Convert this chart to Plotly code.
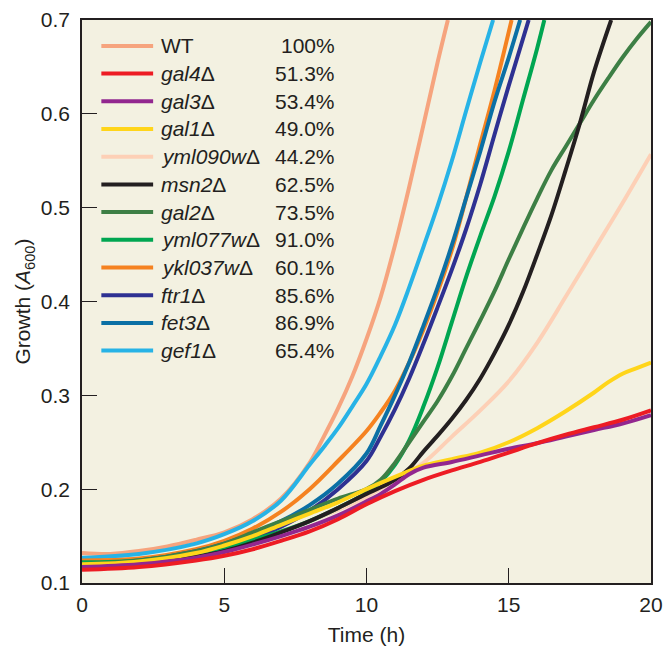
import plotly.graph_objects as go

# ---- data ----
strains = ["WT", "gal4", "gal3", "gal1", "yml090w", "msn2", "gal2",
           "yml077w", "ykl037w", "ftr1", "fet3", "gef1"]
percent = ["100%", "51.3%", "53.4%", "49.0%", "44.2%", "62.5%", "73.5%",
           "91.0%", "60.1%", "85.6%", "86.9%", "65.4%"]
colors = ["#f6a47e", "#ed1c24", "#92278f", "#ffd51a", "#fdd0b6", "#231f20",
          "#3d7f45", "#00a651", "#f58220", "#2e3192", "#0b70a5", "#27b3e6"]

wt_t = [0, 1, 2, 3, 4, 5, 6, 7, 8, 8.5, 9, 9.5, 10, 10.5, 11, 11.5, 12, 12.5, 12.86]
wt_y = [0.132, 0.131, 0.134, 0.139, 0.146, 0.154, 0.168, 0.19, 0.228, 0.256, 0.286,
        0.32, 0.36, 0.405, 0.46, 0.522, 0.588, 0.655, 0.7]

gal4_t = [0, 2, 4, 5, 6, 7, 8, 9, 10, 11, 12, 13, 14, 15, 16, 17, 18, 19, 20]
gal4_y = [0.114, 0.117, 0.124, 0.129, 0.136, 0.145, 0.155, 0.168, 0.184, 0.198, 0.21,
          0.22, 0.229, 0.239, 0.249, 0.258, 0.266, 0.274, 0.284]

gal3_t = [0, 2, 4, 5, 6, 7, 8, 9, 10, 10.5, 11, 11.5, 12, 13, 14, 15, 16, 17, 18, 19, 20]
gal3_y = [0.117, 0.12, 0.127, 0.133, 0.141, 0.15, 0.16, 0.172, 0.187, 0.195, 0.205,
          0.216, 0.223, 0.229, 0.236, 0.243, 0.249, 0.256, 0.263, 0.27, 0.279]

gal1_t = [0, 2, 4, 5, 6, 7, 8, 9, 10, 11, 12, 13, 14, 15, 16, 17, 18, 18.5, 19, 19.5, 20]
gal1_y = [0.12, 0.123, 0.132, 0.14, 0.15, 0.162, 0.174, 0.186, 0.2, 0.213, 0.225,
          0.232, 0.239, 0.25, 0.265, 0.283, 0.303, 0.314, 0.323, 0.329, 0.335]

yml090w_t = [0, 2, 4, 5, 6, 7, 8, 9, 10, 11, 12, 13, 14, 15, 16, 17, 18, 19, 20]
yml090w_y = [0.122, 0.125, 0.132, 0.137, 0.145, 0.155, 0.166, 0.178, 0.192, 0.21, 0.228,
             0.256, 0.284, 0.315, 0.356, 0.405, 0.455, 0.505, 0.557]

msn2_t = [0, 2, 4, 5, 6, 7, 8, 9, 10, 10.5, 11, 11.5, 12, 12.5, 13, 13.5, 14, 14.5,
          15, 15.5, 16, 16.5, 17, 17.5, 18, 18.6]
msn2_y = [0.117, 0.12, 0.128, 0.134, 0.143, 0.154, 0.166, 0.18, 0.195, 0.202, 0.21,
          0.222, 0.24, 0.257, 0.275, 0.295, 0.318, 0.345, 0.375, 0.41, 0.45, 0.492,
          0.54, 0.59, 0.645, 0.7]

gal2_t = [0, 2, 4, 5, 6, 7, 8, 9, 10, 10.5, 11, 11.5, 12, 12.5, 13, 13.5, 14, 14.5,
          15, 15.5, 16, 16.5, 17, 17.5, 18, 18.5, 19, 19.5, 20]
gal2_y = [0.12, 0.124, 0.134, 0.142, 0.154, 0.166, 0.178, 0.19, 0.2, 0.21, 0.228,
          0.25, 0.272, 0.294, 0.32, 0.35, 0.38, 0.411, 0.445, 0.478, 0.51, 0.54,
          0.565, 0.59, 0.615, 0.638, 0.66, 0.68, 0.698]

yml077w_t = [0, 2, 4, 5, 6, 7, 8, 9, 10, 10.5, 11, 11.5, 12, 12.5, 13, 13.5, 14, 14.5,
             15, 15.5, 16, 16.25]
yml077w_y = [0.122, 0.124, 0.132, 0.138, 0.146, 0.155, 0.166, 0.18, 0.196, 0.208,
             0.226, 0.252, 0.288, 0.33, 0.378, 0.426, 0.47, 0.512, 0.56, 0.615, 0.67, 0.7]

ykl037w_t = [0, 2, 4, 5, 6, 7, 8, 9, 10, 10.5, 11, 11.5, 12, 12.5, 13, 13.5, 14, 14.5, 15.1]
ykl037w_y = [0.124, 0.126, 0.136, 0.145, 0.158, 0.176, 0.2, 0.23, 0.262, 0.282, 0.305,
             0.335, 0.37, 0.41, 0.455, 0.51, 0.568, 0.625, 0.7]

ftr1_t = [0, 2, 4, 5, 6, 7, 8, 9, 10, 10.5, 11, 11.5, 12, 12.5, 13, 13.5, 14, 14.5, 15, 15.7]
ftr1_y = [0.118, 0.121, 0.13, 0.137, 0.147, 0.16, 0.177, 0.2, 0.23, 0.256, 0.285,
          0.318, 0.355, 0.394, 0.434, 0.477, 0.525, 0.578, 0.63, 0.7]

fet3_t = [0, 2, 4, 5, 6, 7, 8, 9, 10, 10.5, 11, 11.5, 12, 12.5, 13, 13.5, 14, 14.5, 15, 15.4]
fet3_y = [0.12, 0.124, 0.134, 0.142, 0.153, 0.166, 0.183, 0.206, 0.238, 0.268, 0.3,
          0.335, 0.374, 0.415, 0.46, 0.51, 0.56, 0.613, 0.66, 0.7]

gef1_t = [0, 2, 4, 5, 6, 7, 8, 8.5, 9, 9.5, 10, 10.5, 11, 11.5, 12, 12.5, 13, 13.5, 14, 14.45]
gef1_y = [0.127, 0.131, 0.142, 0.152, 0.166, 0.188, 0.226, 0.245, 0.265, 0.288, 0.312,
          0.342, 0.375, 0.415, 0.458, 0.502, 0.55, 0.603, 0.655, 0.7]

series_t = [wt_t, gal4_t, gal3_t, gal1_t, yml090w_t, msn2_t, gal2_t,
            yml077w_t, ykl037w_t, ftr1_t, fet3_t, gef1_t]
series_y = [wt_y, gal4_y, gal3_y, gal1_y, yml090w_y, msn2_y, gal2_y,
            yml077w_y, ykl037w_y, ftr1_y, fet3_y, gef1_y]

x_ticks = [0, 5, 10, 15, 20]
y_ticks = [0.1, 0.2, 0.3, 0.4, 0.5, 0.6, 0.7]
y_ticktext = ["0.1", "0.2", "0.3", "0.4", "0.5", "0.6", "0.7"]

FONT = "Liberation Sans, Arial, Helvetica, sans-serif"
INK = "#231f20"
FS = 21

fig = go.Figure()
order = [4, 0, 11, 8, 10, 9, 7, 6, 5, 3, 2, 1]
for i in order:
    fig.add_trace(go.Scatter(
        x=series_t[i], y=series_y[i], mode="lines",
        line=dict(color=colors[i], width=4, shape="spline", smoothing=1.0),
        name=strains[i], showlegend=False, hoverinfo="skip"))

# custom legend (line sample + name + percentage)
shapes = []
annotations = []
y0 = 0.954
dy = 0.0492
for k, (s, p, c) in enumerate(zip(strains, percent, colors)):
    yy = y0 - k * dy
    shapes.append(dict(type="line", xref="paper", yref="paper",
                       x0=0.034, x1=0.125, y0=yy, y1=yy,
                       line=dict(color=c, width=4)))
    label = s if s == "WT" else "<i>" + s + "</i>Δ"
    annotations.append(dict(xref="paper", yref="paper", x=0.135, y=yy,
                            text=label, showarrow=False, xanchor="left",
                            yanchor="middle", font=dict(size=FS, color=INK, family=FONT)))
    annotations.append(dict(xref="paper", yref="paper", x=0.449, y=yy,
                            text=p, showarrow=False, xanchor="right",
                            yanchor="middle", font=dict(size=FS, color=INK, family=FONT)))

fig.update_layout(
    width=663, height=647,
    margin=dict(l=82, r=12, t=20, b=64),
    paper_bgcolor="white",
    plot_bgcolor="#f3f1e1",
    font=dict(family=FONT, size=FS, color=INK),
    shapes=shapes,
    annotations=annotations,
    xaxis=dict(range=[0, 20], tickvals=x_ticks, ticks="inside", ticklen=15,
               tickwidth=1.3, tickcolor=INK, showline=True, linecolor=INK,
               linewidth=1.5, mirror=True, showgrid=False, zeroline=False,
               automargin=False, ticklabelstandoff=2,
               title=dict(text="Time (h)", font=dict(size=FS), standoff=12),
               tickfont=dict(size=FS)),
    yaxis=dict(range=[0.1, 0.7], tickvals=y_ticks, ticktext=y_ticktext,
               ticks="inside", ticklen=15, tickwidth=1.3, tickcolor=INK,
               showline=True, linecolor=INK, linewidth=1.5, mirror=True,
               showgrid=False, zeroline=False, automargin=False,
               ticklabelstandoff=6,
               title=dict(text="Growth (<i>A</i><sub>600</sub>)", font=dict(size=FS), standoff=4),
               tickfont=dict(size=FS)),
)

fig.write_html("out.html", config={"displayModeBar": False},
               post_script="document.body.style.margin='0';document.body.style.overflow='hidden';")
